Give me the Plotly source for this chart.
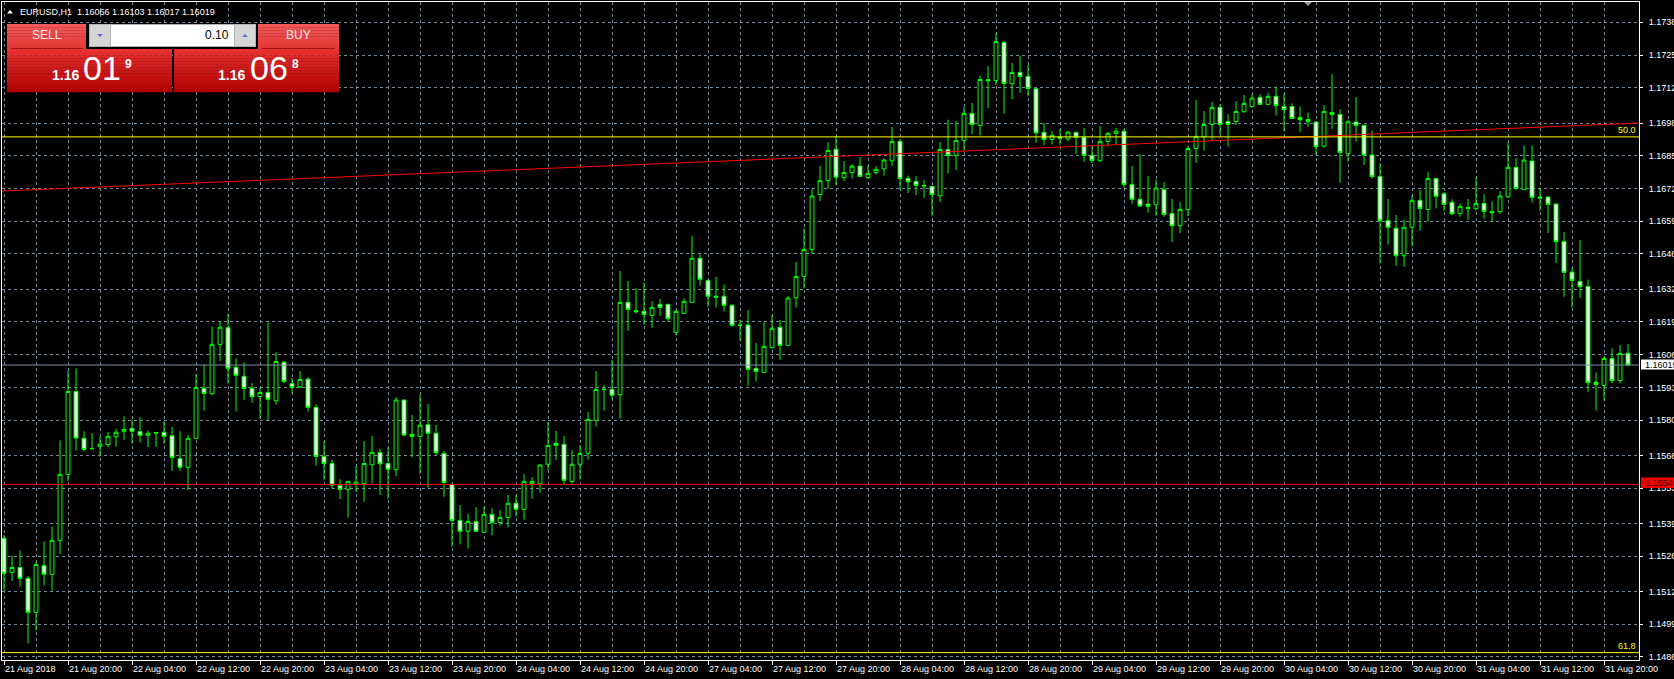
import plotly.graph_objects as go

# ---------------- data (EURUSD H1, 21 Aug 2018 12:00 .. 31 Aug 2018 23:00) ----------------
opens = [1.15331, 1.15196, 1.15215, 1.15172, 1.15037, 1.15222, 1.15188, 1.15323, 1.15585, 1.15914,
         1.15728, 1.15688, 1.15696, 1.15703, 1.15734, 1.15756, 1.15767, 1.15754, 1.15740, 1.15751,
         1.15752, 1.15738, 1.15647, 1.15613, 1.15728, 1.15926, 1.15905, 1.16101, 1.16167, 1.16010,
         1.15974, 1.15926, 1.15894, 1.15910, 1.15877, 1.16030, 1.15945, 1.15932, 1.15963, 1.15851,
         1.15656, 1.15628, 1.15541, 1.15524, 1.15546, 1.15548, 1.15623, 1.15672, 1.15628, 1.15603,
         1.15880, 1.15744, 1.15736, 1.15782, 1.15748, 1.15668, 1.15545, 1.15402, 1.15359, 1.15398,
         1.15355, 1.15426, 1.15394, 1.15414, 1.15470, 1.15446, 1.15548, 1.15547, 1.15625, 1.15708,
         1.15704, 1.15556, 1.15625, 1.15668, 1.15799, 1.15922, 1.15922, 1.15901, 1.16268, 1.16235,
         1.16232, 1.16216, 1.16260, 1.16260, 1.16149, 1.16224, 1.16268, 1.16443, 1.16355, 1.16292,
         1.16292, 1.16256, 1.16178, 1.16178, 1.16005, 1.15990, 1.16088, 1.16169, 1.16097, 1.16286,
         1.16371, 1.16478, 1.16696, 1.16751, 1.16876, 1.16763, 1.16783, 1.16809, 1.16763, 1.16783,
         1.16798, 1.16830, 1.16907, 1.16760, 1.16748, 1.16732, 1.16728, 1.16691, 1.16875, 1.16851,
         1.16911, 1.17018, 1.16970, 1.17152, 1.17149, 1.17300, 1.17136, 1.17181, 1.17165, 1.17116,
         1.16943, 1.16915, 1.16925, 1.16917, 1.16943, 1.16923, 1.16851, 1.16830, 1.16907, 1.16939,
         1.16947, 1.16736, 1.16677, 1.16658, 1.16655, 1.16716, 1.16621, 1.16572, 1.16636, 1.16879,
         1.16925, 1.16974, 1.17042, 1.16986, 1.16986, 1.17025, 1.17045, 1.17082, 1.17054, 1.17086,
         1.17046, 1.17046, 1.17002, 1.16994, 1.16984, 1.16888, 1.17022, 1.17014, 1.16858, 1.16984,
         1.16971, 1.16853, 1.16768, 1.16593, 1.16562, 1.16453, 1.16566, 1.16673, 1.16637, 1.16760,
         1.16699, 1.16665, 1.16620, 1.16645, 1.16640, 1.16661, 1.16628, 1.16628, 1.16687, 1.16804,
         1.16715, 1.16829, 1.16686, 1.16686, 1.16658, 1.16509, 1.16388, 1.16351, 1.16331, 1.15951,
         1.15938, 1.16045, 1.15957, 1.16066]
highs = [1.15344, 1.15262, 1.15283, 1.15181, 1.15238, 1.15319, 1.15378, 1.15720, 1.15996, 1.16006,
         1.15756, 1.15748, 1.15734, 1.15753, 1.15767, 1.15815, 1.15802, 1.15811, 1.15759, 1.15751,
         1.15795, 1.15773, 1.15756, 1.15741, 1.15983, 1.16020, 1.16172, 1.16191, 1.16221, 1.16045,
         1.16030, 1.15947, 1.15930, 1.16188, 1.16071, 1.16035, 1.15967, 1.15995, 1.15971, 1.15863,
         1.15716, 1.15644, 1.15565, 1.15557, 1.15618, 1.15717, 1.15737, 1.15685, 1.15692, 1.15892,
         1.15882, 1.15820, 1.15901, 1.15864, 1.15781, 1.15678, 1.15549, 1.15463, 1.15427, 1.15455,
         1.15457, 1.15450, 1.15443, 1.15503, 1.15503, 1.15586, 1.15574, 1.15626, 1.15793, 1.15757,
         1.15737, 1.15682, 1.15701, 1.15832, 1.15995, 1.15940, 1.16040, 1.16392, 1.16353, 1.16325,
         1.16347, 1.16273, 1.16281, 1.16260, 1.16238, 1.16284, 1.16531, 1.16459, 1.16359, 1.16369,
         1.16339, 1.16261, 1.16198, 1.16238, 1.16106, 1.16190, 1.16218, 1.16198, 1.16293, 1.16428,
         1.16562, 1.16720, 1.16809, 1.16904, 1.16929, 1.16829, 1.16817, 1.16845, 1.16813, 1.16809,
         1.16839, 1.16964, 1.16916, 1.16771, 1.16769, 1.16753, 1.16732, 1.16904, 1.16993, 1.16988,
         1.17043, 1.17059, 1.17169, 1.17206, 1.17336, 1.17305, 1.17218, 1.17247, 1.17211, 1.17119,
         1.16980, 1.16948, 1.16956, 1.16948, 1.16945, 1.16960, 1.16887, 1.16968, 1.16944, 1.16960,
         1.16957, 1.16809, 1.16857, 1.16769, 1.16755, 1.16745, 1.16678, 1.16666, 1.16886, 1.17071,
         1.17027, 1.17063, 1.17055, 1.17015, 1.17067, 1.17091, 1.17094, 1.17094, 1.17100, 1.17125,
         1.17099, 1.17058, 1.17046, 1.17022, 1.16988, 1.17051, 1.17174, 1.17035, 1.16993, 1.17083,
         1.16973, 1.16951, 1.16820, 1.16678, 1.16615, 1.16597, 1.16693, 1.16714, 1.16785, 1.16760,
         1.16706, 1.16677, 1.16661, 1.16678, 1.16765, 1.16697, 1.16669, 1.16710, 1.16904, 1.16841,
         1.16891, 1.16891, 1.16724, 1.16690, 1.16662, 1.16547, 1.16403, 1.16515, 1.16358, 1.15990,
         1.16052, 1.16086, 1.16098, 1.16103]
lows = [1.15125, 1.15162, 1.15139, 1.14914, 1.14964, 1.15144, 1.15124, 1.15268, 1.15558, 1.15679,
        1.15676, 1.15684, 1.15655, 1.15692, 1.15695, 1.15722, 1.15707, 1.15711, 1.15693, 1.15693,
        1.15707, 1.15599, 1.15599, 1.15522, 1.15724, 1.15838, 1.15901, 1.16036, 1.15946, 1.15834,
        1.15881, 1.15869, 1.15806, 1.15798, 1.15861, 1.15947, 1.15906, 1.15928, 1.15834, 1.15619,
        1.15564, 1.15528, 1.15487, 1.15413, 1.15515, 1.15476, 1.15549, 1.15503, 1.15488, 1.15578,
        1.15737, 1.15652, 1.15588, 1.15532, 1.15662, 1.15496, 1.15298, 1.15307, 1.15290, 1.15357,
        1.15355, 1.15343, 1.15381, 1.15374, 1.15417, 1.15405, 1.15488, 1.15512, 1.15602, 1.15642,
        1.15547, 1.15547, 1.15565, 1.15643, 1.15774, 1.15838, 1.15885, 1.15806, 1.16155, 1.16223,
        1.16179, 1.16167, 1.16214, 1.16191, 1.16136, 1.16224, 1.16268, 1.16334, 1.16251, 1.16247,
        1.16231, 1.16171, 1.16114, 1.15937, 1.15953, 1.15990, 1.16084, 1.16040, 1.16097, 1.16247,
        1.16324, 1.16460, 1.16671, 1.16719, 1.16732, 1.16749, 1.16759, 1.16766, 1.16759, 1.16775,
        1.16771, 1.16809, 1.16715, 1.16702, 1.16694, 1.16683, 1.16612, 1.16666, 1.16780, 1.16793,
        1.16868, 1.16936, 1.16931, 1.17039, 1.17131, 1.17017, 1.17075, 1.17100, 1.17088, 1.16902,
        1.16892, 1.16895, 1.16894, 1.16907, 1.16857, 1.16826, 1.16821, 1.16826, 1.16891, 1.16894,
        1.16723, 1.16659, 1.16647, 1.16624, 1.16612, 1.16608, 1.16508, 1.16544, 1.16610, 1.16822,
        1.16870, 1.16908, 1.16935, 1.16886, 1.16972, 1.17021, 1.17041, 1.17053, 1.17053, 1.17009,
        1.16948, 1.16997, 1.16945, 1.16965, 1.16853, 1.16882, 1.16957, 1.16743, 1.16828, 1.16906,
        1.16814, 1.16759, 1.16423, 1.16497, 1.16413, 1.16409, 1.16490, 1.16552, 1.16588, 1.16641,
        1.16632, 1.16614, 1.16608, 1.16596, 1.16632, 1.16600, 1.16588, 1.16620, 1.16683, 1.16715,
        1.16714, 1.16664, 1.16632, 1.16544, 1.16425, 1.16290, 1.16247, 1.16286, 1.15913, 1.15838,
        1.15877, 1.15947, 1.15946, 1.16017]
closes = [1.15192, 1.15215, 1.15172, 1.15037, 1.15227, 1.15188, 1.15323, 1.15585, 1.15914, 1.15729,
          1.15684, 1.15687, 1.15705, 1.15736, 1.15752, 1.15763, 1.15756, 1.15740, 1.15748, 1.15749,
          1.15736, 1.15652, 1.15613, 1.15728, 1.15930, 1.15906, 1.16101, 1.16169, 1.16006, 1.15978,
          1.15926, 1.15893, 1.15910, 1.15883, 1.16033, 1.15954, 1.15930, 1.15962, 1.15851, 1.15656,
          1.15628, 1.15542, 1.15525, 1.15557, 1.15554, 1.15628, 1.15672, 1.15627, 1.15605, 1.15880,
          1.15741, 1.15735, 1.15780, 1.15748, 1.15671, 1.15552, 1.15402, 1.15359, 1.15398, 1.15359,
          1.15426, 1.15394, 1.15414, 1.15470, 1.15446, 1.15557, 1.15557, 1.15622, 1.15700, 1.15700,
          1.15561, 1.15625, 1.15668, 1.15803, 1.15922, 1.15923, 1.15899, 1.16268, 1.16240, 1.16231,
          1.16220, 1.16248, 1.16248, 1.16203, 1.16232, 1.16272, 1.16443, 1.16359, 1.16292, 1.16288,
          1.16256, 1.16177, 1.16177, 1.16002, 1.15994, 1.16093, 1.16165, 1.16097, 1.16285, 1.16371,
          1.16478, 1.16690, 1.16751, 1.16871, 1.16765, 1.16784, 1.16809, 1.16768, 1.16780, 1.16796,
          1.16833, 1.16907, 1.16759, 1.16747, 1.16732, 1.16730, 1.16696, 1.16875, 1.16851, 1.16911,
          1.17018, 1.16974, 1.17153, 1.17148, 1.17304, 1.17137, 1.17181, 1.17165, 1.17117, 1.16941,
          1.16915, 1.16931, 1.16920, 1.16944, 1.16923, 1.16851, 1.16831, 1.16907, 1.16939, 1.16948,
          1.16736, 1.16677, 1.16651, 1.16649, 1.16722, 1.16617, 1.16572, 1.16637, 1.16879, 1.16927,
          1.16974, 1.17042, 1.16974, 1.16974, 1.17026, 1.17058, 1.17079, 1.17054, 1.17086, 1.17049,
          1.17033, 1.16998, 1.16993, 1.16986, 1.16886, 1.17026, 1.17014, 1.16863, 1.16985, 1.16971,
          1.16853, 1.16767, 1.16592, 1.16566, 1.16453, 1.16566, 1.16673, 1.16640, 1.16760, 1.16689,
          1.16657, 1.16620, 1.16649, 1.16641, 1.16661, 1.16629, 1.16624, 1.16690, 1.16804, 1.16720,
          1.16833, 1.16685, 1.16682, 1.16657, 1.16509, 1.16387, 1.16355, 1.16330, 1.15949, 1.15942,
          1.16045, 1.15957, 1.16065, 1.16019]

time_labels = ["21 Aug 2018", "21 Aug 20:00", "22 Aug 04:00", "22 Aug 12:00", "22 Aug 20:00",
               "23 Aug 04:00", "23 Aug 12:00", "23 Aug 20:00", "24 Aug 04:00", "24 Aug 12:00",
               "24 Aug 20:00", "27 Aug 04:00", "27 Aug 12:00", "27 Aug 20:00", "28 Aug 04:00",
               "28 Aug 12:00", "28 Aug 20:00", "29 Aug 04:00", "29 Aug 12:00", "29 Aug 20:00",
               "30 Aug 04:00", "30 Aug 12:00", "30 Aug 20:00", "31 Aug 04:00", "31 Aug 12:00",
               "31 Aug 20:00"]
label_bars = [0, 8, 16, 24, 32, 40, 48, 56, 64, 72, 80, 88, 96, 104, 112, 120, 128, 136, 144,
              152, 160, 168, 176, 184, 192, 200]

price_ticks = [1.17380, 1.17250, 1.17120, 1.16980, 1.16850, 1.16720, 1.16590, 1.16460, 1.16320,
               1.16190, 1.16060, 1.15930, 1.15800, 1.15660, 1.15530, 1.15390, 1.15260, 1.15120,
               1.14990, 1.14860]
price_labels = ["1.17380", "1.17250", "1.17120", "1.16980", "1.16850", "1.16720", "1.16590",
                "1.16460", "1.16320", "1.16190", "1.16060", "1.15930", "1.15800", "1.15660",
                "1.15530", "1.15390", "1.15260", "1.15120", "1.14990", "1.14860"]

bid_price = 1.16019
support_level = 1.15545
fib_levels = [1.16925, 1.14877]
fib_names = ["50.0", "61.8"]
trend_bars = [-0.25, 204.375]
trend_prices = [1.16710, 1.16980]

title_text = "EURUSD,H1  1.16066 1.16103 1.16017 1.16019"
lot_size = "0.10"
sell_quote = ["1.16", "01", "9"]
buy_quote = ["1.16", "06", "8"]

# ---------------- layout geometry ----------------
W, H = 1674, 679
PL, PT, PR, PB = 2, 2, 1639, 660
X_RANGE = [-0.25, 204.375]
Y_RANGE = [1.148477, 1.174606]
FONT = "Liberation Sans"
GRID = "#778899"
DASH = "3px,3px"


def px(x):
    return (x - PL) / (PR - PL)


def py(y):
    return 1 - (y - PT) / (PB - PT)


bars = list(range(len(opens)))
minor_bars = [b + 4 for b in label_bars if b + 4 < len(opens)]

fig = go.Figure()

fig.add_trace(go.Candlestick(
    x=bars, open=opens, high=highs, low=lows, close=closes,
    increasing=dict(line=dict(color="#00ff00", width=1), fillcolor="#000000"),
    decreasing=dict(line=dict(color="#00ff00", width=1), fillcolor="#ffffff"),
    whiskerwidth=0, hoverinfo="skip", showlegend=False))

# trend line (red)
fig.add_trace(go.Scatter(x=trend_bars, y=trend_prices, mode="lines",
                         line=dict(color="#ff0000", width=1), hoverinfo="skip",
                         showlegend=False, cliponaxis=True))

shapes = []
annotations = []

# horizontal level lines
for lvl in fib_levels:
    shapes.append(dict(type="line", xref="paper", yref="y", x0=0, x1=1, y0=lvl, y1=lvl,
                       line=dict(color="#ffff00", width=1), layer="above"))
shapes.append(dict(type="line", xref="paper", yref="y", x0=0, x1=1, y0=support_level,
                   y1=support_level, line=dict(color="#ff0000", width=1), layer="above"))
shapes.append(dict(type="line", xref="paper", yref="y", x0=0, x1=1, y0=bid_price, y1=bid_price,
                   line=dict(color="#8090a4", width=1), layer="above"))

for lvl, name in zip(fib_levels, fib_names):
    annotations.append(dict(xref="paper", yref="y", x=px(1638), y=lvl, text=name,
                            xanchor="right", yanchor="bottom", showarrow=False,
                            font=dict(family=FONT, size=9, color="#ffff00"), yshift=0))


def rect(x0, y0, x1, y1, fill, line=None):
    shapes.append(dict(type="rect", xref="paper", yref="paper", x0=px(x0), x1=px(x1),
                       y0=py(y0), y1=py(y1), fillcolor=fill,
                       line=dict(width=0) if line is None else dict(color=line, width=1),
                       layer="above"))


def gradient(x0, y0, x1, y1, c_top, c_bot, steps=12):
    h = (y1 - y0) / steps
    for k in range(steps):
        t = k / (steps - 1)
        c = tuple(round(a + (b - a) * t) for a, b in zip(c_top, c_bot))
        rect(x0, y0 + k * h, x1, y0 + (k + 1) * h + 0.3, "rgb(%d,%d,%d)" % c)


def poly(points, fill):
    path = "M " + " L ".join("%f,%f" % (px(x), py(y)) for x, y in points) + " Z"
    shapes.append(dict(type="path", xref="paper", yref="paper", path=path, fillcolor=fill,
                       line=dict(width=0), layer="above"))


def text(x, y, s, size, color, anchor="left", bold=False, family=FONT):
    annotations.append(dict(xref="paper", yref="paper", x=px(x), y=py(y),
                            text=("<b>%s</b>" % s) if bold else s, xanchor=anchor,
                            yanchor="middle", showarrow=False,
                            font=dict(family=family, size=size, color=color)))


# price-axis markers
rect(1641, 359.5, 1674, 369.5, "#ffffff")
text(1643, 364.5, "%.5f" % bid_price, 9, "#000000")
rect(1641, 477.5, 1674, 488, "#f00000")
text(1643, 483, "%.5f" % support_level, 9, "#300000")

# top title
poly([(7, 13.5), (10, 10), (13, 13.5)], "#ffffff")
text(18, 12, title_text, 9, "#ffffff")

# shift marker at top
poly([(1304, 2), (1312, 2), (1308, 6)], "#8c96a0")

# one-click trading panel
gradient(7, 24, 86, 49, (243, 88, 88), (228, 56, 56), 8)
gradient(258, 24, 339, 49, (243, 88, 88), (228, 56, 56), 8)
gradient(7, 49, 172, 92, (232, 48, 48), (176, 2, 2), 14)
gradient(174, 49, 339, 92, (232, 48, 48), (176, 2, 2), 14)
shapes.append(dict(type="line", xref="paper", yref="paper", x0=px(11), x1=px(83), y0=py(48.5),
                   y1=py(48.5), line=dict(color="#a01414", width=1), layer="above"))
shapes.append(dict(type="line", xref="paper", yref="paper", x0=px(262), x1=px(335), y0=py(48.5),
                   y1=py(48.5), line=dict(color="#a01414", width=1), layer="above"))
rect(89, 24, 256, 47, "#b4b4b4")
rect(111, 25, 234, 46, "#ffffff")
rect(90, 25, 110, 46, "#d6d6d6")
rect(235, 25, 255, 46, "#d6d6d6")
poly([(97, 34), (103, 34), (100, 37)], "#5a6ec8")
poly([(242, 37), (248, 37), (245, 34)], "#5a6ec8")
text(231, 35.5, lot_size, 12, "#000000", anchor="right")
text(46.5, 35.5, "SELL", 12, "#ffe8e8", anchor="center")
text(298, 35.5, "BUY", 12, "#ffe8e8", anchor="center")

text(50, 74.5, sell_quote[0], 14, "#ffffff", bold=True)
text(81, 68, sell_quote[1], 34, "#ffffff")
text(123, 64.5, sell_quote[2], 12, "#ffffff", bold=True)
text(216, 74.5, buy_quote[0], 14, "#ffffff", bold=True)
text(248, 68, buy_quote[1], 34, "#ffffff")
text(290, 64.5, buy_quote[2], 12, "#ffffff", bold=True)

fig.update_layout(
    width=W, height=H,
    margin=dict(l=PL, r=W - PR, t=PT, b=H - PB, pad=0, autoexpand=False),
    paper_bgcolor="#000000", plot_bgcolor="#000000",
    showlegend=False, hovermode=False, dragmode=False,
    shapes=shapes, annotations=annotations,
    xaxis=dict(range=X_RANGE, tickvals=label_bars, ticktext=time_labels,
               ticks="outside", ticklen=4, tickcolor="#ffffff", tickwidth=1,
               ticklabelposition="outside right", automargin=False,
               tickfont=dict(family=FONT, size=9, color="#ffffff"),
               showgrid=True, gridcolor=GRID, gridwidth=1, griddash=DASH,
               minor=dict(tickvals=minor_bars, showgrid=True, gridcolor=GRID, gridwidth=1,
                          griddash=DASH, ticks=""),
               showline=True, linecolor="#ffffff", linewidth=1, mirror=True,
               zeroline=False, rangeslider=dict(visible=False), fixedrange=True),
    yaxis=dict(side="right", range=Y_RANGE, tickvals=price_ticks, ticktext=price_labels,
               ticks="outside", ticklen=3, tickcolor="#ffffff", tickwidth=1,
               ticklabelstandoff=4, automargin=False,
               tickfont=dict(family=FONT, size=9, color="#ffffff"),
               showgrid=True, gridcolor=GRID, gridwidth=1, griddash=DASH,
               showline=True, linecolor="#ffffff", linewidth=1, mirror=True,
               zeroline=False, fixedrange=True),
)

fig.write_html("out.html", config={"displayModeBar": False},
               post_script="document.body.style.margin='0';document.body.style.background='#000';"
                           "document.body.style.overflow='hidden';")
